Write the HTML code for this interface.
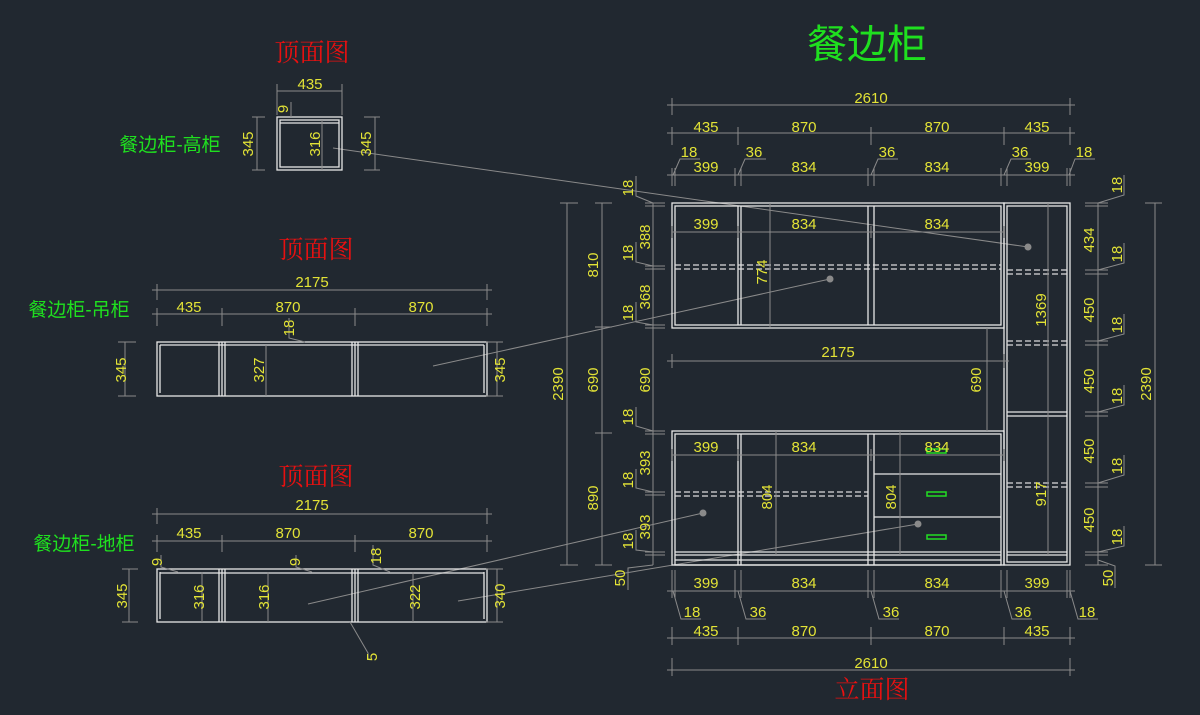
<!DOCTYPE html>
<html><head><meta charset="utf-8"><style>
html,body{margin:0;padding:0;background:#212830;}
svg{display:block}
.t{font-family:"Liberation Sans Narrow","Liberation Sans",sans-serif;font-size:15px;fill:#e3e336;text-anchor:middle}
.g{font-family:"Liberation Sans","Noto Sans CJK SC",sans-serif;fill:#1fe01f;text-anchor:middle}
.r{font-family:"Liberation Serif","Noto Serif CJK SC",serif;fill:#e81010;text-anchor:middle}
.w{stroke:#e6e6e6;stroke-width:1.3;fill:none}
.d{stroke:#8a8a8a;stroke-width:1;fill:none}
.s{stroke:#dcdcdc;stroke-width:1.3;stroke-dasharray:6 3;fill:none}
</style></head><body>
<svg width="1200" height="715" viewBox="0 0 1200 715" xmlns="http://www.w3.org/2000/svg">
<rect width="1200" height="715" fill="#212830"/>

<!-- Titles -->
<text x="867" y="58" class="g" font-size="40">餐边柜</text>
<text x="312" y="61" class="r" font-size="25">顶面图</text>
<text x="316" y="258" class="r" font-size="25">顶面图</text>
<text x="316" y="485" class="r" font-size="25">顶面图</text>
<text x="872" y="698" class="r" font-size="25">立面图</text>
<text x="170" y="151" class="g" font-size="19">餐边柜-高柜</text>
<text x="79" y="316" class="g" font-size="19">餐边柜-吊柜</text>
<text x="84" y="550" class="g" font-size="19">餐边柜-地柜</text>

<!-- Leaders -->
<g class="d" stroke="#8a8a8a">
<line x1="333" y1="148" x2="1028" y2="247"/>
<line x1="433" y1="366" x2="830" y2="279"/>
<line x1="308" y1="604" x2="703" y2="513"/>
<line x1="458" y1="601" x2="918" y2="524"/>
</g>
<g fill="#8a8a8a"><circle cx="1028" cy="247" r="3.5"/><circle cx="830" cy="279" r="3.5"/><circle cx="703" cy="513" r="3.5"/><circle cx="918" cy="524" r="3.5"/></g>

<!-- ===== Tall top view ===== -->
<rect x="277" y="117" width="65" height="53" class="w"/>
<rect x="280" y="120" width="59" height="47" class="w"/>
<line x1="280" y1="123" x2="339" y2="123" class="w"/>
<g class="d">
<line x1="277" y1="91" x2="342" y2="91"/><line x1="277" y1="84" x2="277" y2="115"/><line x1="342" y1="84" x2="342" y2="115"/>
<line x1="257" y1="117" x2="257" y2="170"/><line x1="252" y1="117" x2="265" y2="117"/><line x1="252" y1="170" x2="265" y2="170"/>
<line x1="375" y1="117" x2="375" y2="170"/><line x1="364" y1="117" x2="380" y2="117"/><line x1="364" y1="170" x2="380" y2="170"/>
<line x1="322" y1="120" x2="322" y2="170"/>
<line x1="291" y1="102" x2="291" y2="117"/>
</g>
<text x="310" y="89" class="t">435</text>
<text class="t" transform="translate(253,144) rotate(-90)">345</text>
<text class="t" transform="translate(371,144) rotate(-90)">345</text>
<text class="t" transform="translate(320,144) rotate(-90)">316</text>
<text class="t" transform="translate(288,109) rotate(-90)">9</text>

<!-- ===== Hanging top view ===== -->
<rect x="157" y="342" width="330" height="54" class="w"/>
<g class="w">
<line x1="160" y1="345" x2="160" y2="393"/><line x1="484" y1="345" x2="484" y2="393"/>
<line x1="160" y1="345" x2="484" y2="345"/>
<line x1="219" y1="342" x2="219" y2="396"/><line x1="222" y1="342" x2="222" y2="396"/><line x1="225" y1="342" x2="225" y2="396"/>
<line x1="352" y1="342" x2="352" y2="396"/><line x1="355" y1="342" x2="355" y2="396"/><line x1="358" y1="342" x2="358" y2="396"/>
</g>
<g class="d">
<line x1="152" y1="290" x2="492" y2="290"/><line x1="157" y1="284" x2="157" y2="300"/><line x1="487" y1="284" x2="487" y2="300"/>
<line x1="152" y1="314" x2="492" y2="314"/><line x1="157" y1="308" x2="157" y2="326"/><line x1="222" y1="308" x2="222" y2="326"/><line x1="355" y1="308" x2="355" y2="326"/><line x1="487" y1="308" x2="487" y2="326"/>
<line x1="125" y1="342" x2="125" y2="396"/><line x1="118" y1="342" x2="136" y2="342"/><line x1="118" y1="396" x2="136" y2="396"/>
<line x1="497" y1="342" x2="497" y2="396"/><line x1="486" y1="342" x2="503" y2="342"/><line x1="486" y1="396" x2="503" y2="396"/>
<line x1="266" y1="345" x2="266" y2="396"/>
<polyline points="289,318 289,338 305,342"/>
</g>
<text x="312" y="287" class="t">2175</text>
<text x="189" y="312" class="t">435</text><text x="288" y="312" class="t">870</text><text x="421" y="312" class="t">870</text>
<text class="t" transform="translate(126,370) rotate(-90)">345</text>
<text class="t" transform="translate(505,370) rotate(-90)">345</text>
<text class="t" transform="translate(264,370) rotate(-90)">327</text>
<text class="t" transform="translate(294,328) rotate(-90)">18</text>

<!-- ===== Base top view ===== -->
<rect x="157" y="569" width="330" height="53" class="w"/>
<g class="w">
<line x1="160" y1="572" x2="160" y2="619"/><line x1="484" y1="572" x2="484" y2="619"/>
<line x1="160" y1="573" x2="484" y2="573"/>
<line x1="219" y1="569" x2="219" y2="622"/><line x1="222" y1="569" x2="222" y2="622"/><line x1="225" y1="569" x2="225" y2="622"/>
<line x1="352" y1="569" x2="352" y2="622"/><line x1="355" y1="569" x2="355" y2="622"/><line x1="358" y1="569" x2="358" y2="622"/>
</g>
<g class="d">
<line x1="152" y1="514" x2="492" y2="514"/><line x1="157" y1="508" x2="157" y2="524"/><line x1="487" y1="508" x2="487" y2="524"/>
<line x1="152" y1="541" x2="492" y2="541"/><line x1="157" y1="535" x2="157" y2="552"/><line x1="222" y1="535" x2="222" y2="552"/><line x1="355" y1="535" x2="355" y2="552"/><line x1="487" y1="535" x2="487" y2="552"/>
<line x1="129" y1="569" x2="129" y2="622"/><line x1="122" y1="569" x2="138" y2="569"/><line x1="122" y1="622" x2="138" y2="622"/>
<line x1="497" y1="569" x2="497" y2="622"/><line x1="486" y1="569" x2="503" y2="569"/><line x1="486" y1="622" x2="503" y2="622"/>
<line x1="202" y1="572" x2="202" y2="622"/><line x1="268" y1="572" x2="268" y2="622"/><line x1="413" y1="572" x2="413" y2="622"/>
<polyline points="161,555 161,567 178,572"/><polyline points="296,555 296,567 312,572"/><polyline points="373,545 373,565 390,572"/>
<polyline points="350,622 368,653 368,660"/>
</g>
<text x="312" y="510" class="t">2175</text>
<text x="189" y="538" class="t">435</text><text x="288" y="538" class="t">870</text><text x="421" y="538" class="t">870</text>
<text class="t" transform="translate(127,596) rotate(-90)">345</text>
<text class="t" transform="translate(505,596) rotate(-90)">340</text>
<text class="t" transform="translate(204,597) rotate(-90)">316</text>
<text class="t" transform="translate(269,597) rotate(-90)">316</text>
<text class="t" transform="translate(420,597) rotate(-90)">322</text>
<text class="t" transform="translate(162,562) rotate(-90)">9</text>
<text class="t" transform="translate(300,562) rotate(-90)">9</text>
<text class="t" transform="translate(381,556) rotate(-90)">18</text>
<text class="t" transform="translate(377,657) rotate(-90)">5</text>

<!-- ===== Elevation ===== -->
<g class="w">
<rect x="672" y="203" width="332" height="125"/>
<rect x="675" y="206" width="326" height="119"/>
<line x1="738" y1="206" x2="738" y2="325"/><line x1="741" y1="206" x2="741" y2="325"/>
<line x1="868" y1="206" x2="868" y2="325"/><line x1="874" y1="206" x2="874" y2="325"/>
<rect x="1004" y="203" width="66" height="362"/>
<rect x="1007" y="206" width="60" height="356"/>
<line x1="1007" y1="412" x2="1067" y2="412"/><line x1="1007" y1="416" x2="1067" y2="416"/>
<line x1="1007" y1="552" x2="1067" y2="552"/><line x1="1007" y1="555" x2="1067" y2="555"/>
<rect x="672" y="431" width="332" height="134"/>
<rect x="675" y="434" width="326" height="131"/>
<line x1="738" y1="434" x2="738" y2="565"/><line x1="741" y1="434" x2="741" y2="565"/>
<line x1="868" y1="434" x2="868" y2="565"/><line x1="874" y1="434" x2="874" y2="565"/>
<line x1="675" y1="552" x2="1001" y2="552"/><line x1="675" y1="555" x2="1001" y2="555"/><line x1="675" y1="560" x2="1001" y2="560"/>
<line x1="874" y1="474" x2="1001" y2="474"/><line x1="874" y1="517" x2="1001" y2="517"/>
</g>
<g class="s">
<line x1="675" y1="265" x2="1001" y2="265"/><line x1="675" y1="269" x2="1001" y2="269"/>
<line x1="1007" y1="270" x2="1067" y2="270"/><line x1="1007" y1="274" x2="1067" y2="274"/>
<line x1="1007" y1="341" x2="1067" y2="341"/><line x1="1007" y1="345" x2="1067" y2="345"/>
<line x1="1007" y1="483" x2="1067" y2="483"/><line x1="1007" y1="487" x2="1067" y2="487"/>
<line x1="675" y1="492" x2="868" y2="492"/><line x1="675" y1="496" x2="868" y2="496"/>
</g>
<g fill="none" stroke="#22dd22" stroke-width="1.5">
<rect x="927" y="449" width="19" height="4"/><rect x="927" y="492" width="19" height="4"/><rect x="927" y="535" width="19" height="4"/>
</g>

<g class="d">
<line x1="667" y1="105" x2="1075" y2="105"/><line x1="672" y1="98" x2="672" y2="115"/><line x1="1070" y1="98" x2="1070" y2="115"/>
<line x1="667" y1="133" x2="1075" y2="133"/>
<line x1="672" y1="127" x2="672" y2="145"/><line x1="738" y1="127" x2="738" y2="145"/><line x1="871" y1="127" x2="871" y2="145"/><line x1="1004" y1="127" x2="1004" y2="145"/><line x1="1070" y1="127" x2="1070" y2="145"/>
<line x1="667" y1="175" x2="1075" y2="175"/>
<line x1="672" y1="168" x2="672" y2="186"/><line x1="675" y1="168" x2="675" y2="186"/><line x1="735" y1="168" x2="735" y2="186"/><line x1="741" y1="168" x2="741" y2="186"/>
<line x1="868" y1="168" x2="868" y2="186"/><line x1="874" y1="168" x2="874" y2="186"/><line x1="1001" y1="168" x2="1001" y2="186"/><line x1="1007" y1="168" x2="1007" y2="186"/><line x1="1067" y1="168" x2="1067" y2="186"/><line x1="1070" y1="168" x2="1070" y2="186"/>
<polyline points="673,175 680,159 700,159"/><polyline points="738,175 745,159 766,159"/><polyline points="871,175 878,159 898,159"/><polyline points="1004,175 1011,159 1031,159"/><polyline points="1069,175 1075,159 1095,159"/>
<line x1="567" y1="203" x2="567" y2="565"/><line x1="560" y1="203" x2="578" y2="203"/><line x1="560" y1="565" x2="578" y2="565"/>
<line x1="602" y1="203" x2="602" y2="565"/>
<line x1="595" y1="203" x2="612" y2="203"/><line x1="595" y1="327" x2="612" y2="327"/><line x1="595" y1="433" x2="612" y2="433"/><line x1="595" y1="565" x2="612" y2="565"/>
<line x1="653" y1="203" x2="653" y2="565"/>
<line x1="645" y1="203" x2="665" y2="203"/><line x1="645" y1="206" x2="665" y2="206"/><line x1="645" y1="266" x2="665" y2="266"/><line x1="645" y1="269" x2="665" y2="269"/>
<line x1="645" y1="325" x2="665" y2="325"/><line x1="645" y1="328" x2="665" y2="328"/><line x1="645" y1="431" x2="665" y2="431"/><line x1="645" y1="434" x2="665" y2="434"/>
<line x1="645" y1="492" x2="665" y2="492"/><line x1="645" y1="495" x2="665" y2="495"/><line x1="645" y1="552" x2="665" y2="552"/><line x1="645" y1="555" x2="665" y2="555"/>
<polyline points="636,176 636,196 653,203"/><polyline points="636,242 636,262 653,266"/><polyline points="636,302 636,322 653,325"/>
<polyline points="636,407 636,426 653,431"/><polyline points="636,469 636,488 653,492"/><polyline points="636,530 636,550 653,552"/>
<polyline points="628,590 628,568 653,565"/>
<line x1="1098" y1="203" x2="1098" y2="565"/>
<line x1="1085" y1="203" x2="1108" y2="203"/><line x1="1085" y1="206" x2="1108" y2="206"/><line x1="1085" y1="270" x2="1108" y2="270"/><line x1="1085" y1="274" x2="1108" y2="274"/>
<line x1="1085" y1="341" x2="1108" y2="341"/><line x1="1085" y1="345" x2="1108" y2="345"/><line x1="1085" y1="412" x2="1108" y2="412"/><line x1="1085" y1="416" x2="1108" y2="416"/>
<line x1="1085" y1="483" x2="1108" y2="483"/><line x1="1085" y1="487" x2="1108" y2="487"/><line x1="1085" y1="552" x2="1108" y2="552"/><line x1="1085" y1="555" x2="1108" y2="555"/><line x1="1085" y1="565" x2="1108" y2="565"/>
<polyline points="1098,203 1124,195 1124,175"/><polyline points="1098,270 1124,263 1124,243"/><polyline points="1098,341 1124,334 1124,314"/>
<polyline points="1098,412 1124,405 1124,385"/><polyline points="1098,483 1124,475 1124,455"/><polyline points="1098,552 1124,546 1124,526"/>
<polyline points="1098,560 1115,566 1115,588"/>
<line x1="1155" y1="203" x2="1155" y2="565"/><line x1="1145" y1="203" x2="1162" y2="203"/><line x1="1145" y1="565" x2="1162" y2="565"/>
<line x1="672" y1="232" x2="1004" y2="232"/><line x1="672" y1="226" x2="672" y2="238"/><line x1="738" y1="226" x2="738" y2="238"/><line x1="871" y1="226" x2="871" y2="238"/><line x1="1004" y1="226" x2="1004" y2="238"/>
<line x1="770" y1="203" x2="770" y2="327"/>
<line x1="1048" y1="203" x2="1048" y2="555"/>
<line x1="667" y1="361" x2="1009" y2="361"/><line x1="672" y1="354" x2="672" y2="368"/><line x1="1004" y1="354" x2="1004" y2="368"/>
<line x1="987" y1="328" x2="987" y2="431"/>
<line x1="672" y1="455" x2="1004" y2="455"/><line x1="672" y1="449" x2="672" y2="461"/><line x1="738" y1="449" x2="738" y2="461"/><line x1="871" y1="449" x2="871" y2="461"/><line x1="1004" y1="449" x2="1004" y2="461"/>
<line x1="776" y1="431" x2="776" y2="555"/><line x1="900" y1="431" x2="900" y2="555"/>
<!-- bottom -->
<line x1="667" y1="591" x2="1075" y2="591"/>
<line x1="672" y1="570" x2="672" y2="598"/><line x1="675" y1="570" x2="675" y2="598"/><line x1="735" y1="570" x2="735" y2="598"/><line x1="741" y1="570" x2="741" y2="598"/>
<line x1="868" y1="570" x2="868" y2="598"/><line x1="874" y1="570" x2="874" y2="598"/><line x1="1001" y1="570" x2="1001" y2="598"/><line x1="1007" y1="570" x2="1007" y2="598"/><line x1="1067" y1="570" x2="1067" y2="598"/><line x1="1070" y1="570" x2="1070" y2="598"/>
<polyline points="673,591 681,619 701,619"/><polyline points="738,591 746,619 766,619"/><polyline points="871,591 879,619 899,619"/><polyline points="1004,591 1012,619 1032,619"/><polyline points="1070,591 1078,619 1098,619"/>
<line x1="667" y1="638" x2="1075" y2="638"/>
<line x1="672" y1="627" x2="672" y2="645"/><line x1="738" y1="627" x2="738" y2="645"/><line x1="871" y1="627" x2="871" y2="645"/><line x1="1004" y1="627" x2="1004" y2="645"/><line x1="1070" y1="627" x2="1070" y2="645"/>
<line x1="667" y1="670" x2="1075" y2="670"/><line x1="672" y1="658" x2="672" y2="676"/><line x1="1070" y1="658" x2="1070" y2="676"/>
</g>

<text x="871" y="103" class="t">2610</text>
<text x="706" y="132" class="t">435</text><text x="804" y="132" class="t">870</text><text x="937" y="132" class="t">870</text><text x="1037" y="132" class="t">435</text>
<text x="706" y="172" class="t">399</text><text x="804" y="172" class="t">834</text><text x="937" y="172" class="t">834</text><text x="1037" y="172" class="t">399</text>
<text x="689" y="157" class="t">18</text><text x="754" y="157" class="t">36</text><text x="887" y="157" class="t">36</text><text x="1020" y="157" class="t">36</text><text x="1084" y="157" class="t">18</text>

<text x="706" y="229" class="t">399</text><text x="804" y="229" class="t">834</text><text x="937" y="229" class="t">834</text>
<text x="706" y="452" class="t">399</text><text x="804" y="452" class="t">834</text><text x="937" y="452" class="t">834</text>
<text x="838" y="357" class="t">2175</text>
<text class="t" transform="translate(767,272) rotate(-90)">774</text>
<text class="t" transform="translate(1046,310) rotate(-90)">1369</text>
<text class="t" transform="translate(981,380) rotate(-90)">690</text>
<text class="t" transform="translate(772,497) rotate(-90)">804</text>
<text class="t" transform="translate(896,497) rotate(-90)">804</text>
<text class="t" transform="translate(1046,494) rotate(-90)">917</text>

<text class="t" transform="translate(563,384) rotate(-90)">2390</text>
<text class="t" transform="translate(598,265) rotate(-90)">810</text>
<text class="t" transform="translate(598,380) rotate(-90)">690</text>
<text class="t" transform="translate(598,498) rotate(-90)">890</text>
<text class="t" transform="translate(633,188) rotate(-90)">18</text>
<text class="t" transform="translate(633,253) rotate(-90)">18</text>
<text class="t" transform="translate(633,313) rotate(-90)">18</text>
<text class="t" transform="translate(633,417) rotate(-90)">18</text>
<text class="t" transform="translate(633,480) rotate(-90)">18</text>
<text class="t" transform="translate(633,541) rotate(-90)">18</text>
<text class="t" transform="translate(650,237) rotate(-90)">388</text>
<text class="t" transform="translate(650,297) rotate(-90)">368</text>
<text class="t" transform="translate(650,380) rotate(-90)">690</text>
<text class="t" transform="translate(650,463) rotate(-90)">393</text>
<text class="t" transform="translate(650,527) rotate(-90)">393</text>
<text class="t" transform="translate(625,578) rotate(-90)">50</text>

<text class="t" transform="translate(1094,240) rotate(-90)">434</text>
<text class="t" transform="translate(1094,310) rotate(-90)">450</text>
<text class="t" transform="translate(1094,381) rotate(-90)">450</text>
<text class="t" transform="translate(1094,451) rotate(-90)">450</text>
<text class="t" transform="translate(1094,520) rotate(-90)">450</text>
<text class="t" transform="translate(1122,185) rotate(-90)">18</text>
<text class="t" transform="translate(1122,254) rotate(-90)">18</text>
<text class="t" transform="translate(1122,325) rotate(-90)">18</text>
<text class="t" transform="translate(1122,396) rotate(-90)">18</text>
<text class="t" transform="translate(1122,466) rotate(-90)">18</text>
<text class="t" transform="translate(1122,537) rotate(-90)">18</text>
<text class="t" transform="translate(1113,578) rotate(-90)">50</text>
<text class="t" transform="translate(1151,384) rotate(-90)">2390</text>

<text x="706" y="588" class="t">399</text><text x="804" y="588" class="t">834</text><text x="937" y="588" class="t">834</text><text x="1037" y="588" class="t">399</text>
<text x="692" y="617" class="t">18</text><text x="758" y="617" class="t">36</text><text x="891" y="617" class="t">36</text><text x="1023" y="617" class="t">36</text><text x="1087" y="617" class="t">18</text>
<text x="706" y="636" class="t">435</text><text x="804" y="636" class="t">870</text><text x="937" y="636" class="t">870</text><text x="1037" y="636" class="t">435</text>
<text x="871" y="668" class="t">2610</text>
</svg>
</body></html>
